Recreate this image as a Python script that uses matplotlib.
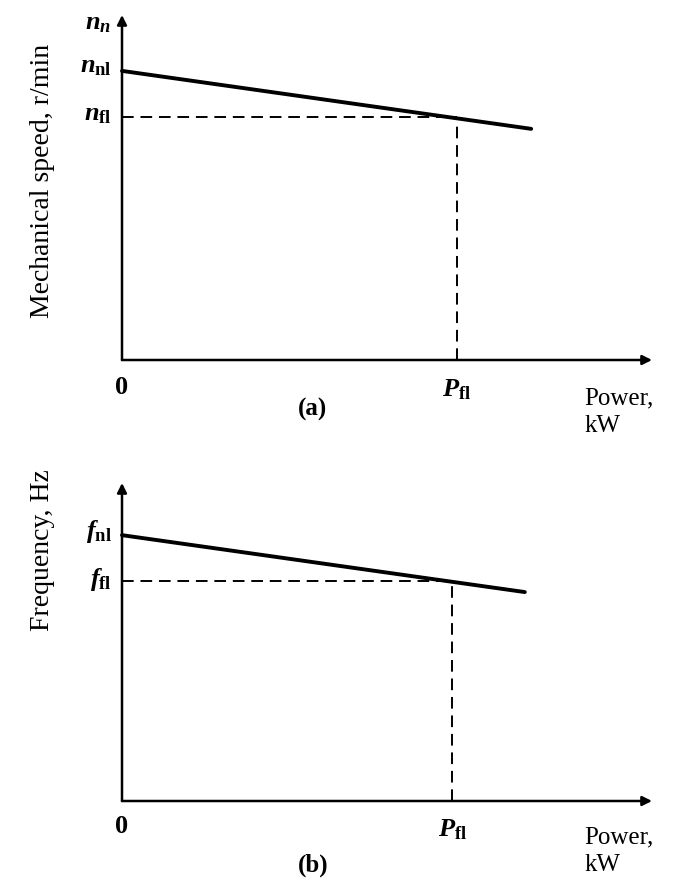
import matplotlib
matplotlib.use('Agg')
import matplotlib.pyplot as plt

# chart values (normalised units, axis arrows end at 1.0)
power_a = [0.0, 0.772]
speed_a = [0.838, 0.670]
p_fl_a = 0.632
n_nl = 0.838
n_fl = 0.704

power_b = [0.0, 0.760]
freq_b = [0.836, 0.657]
p_fl_b = 0.623
f_nl = 0.836
f_fl = 0.692

ylabels = ['Mechanical speed, r/min', 'Frequency, Hz']
captions = ['(a)', '(b)']

plt.rcParams['font.family'] = ['Liberation Serif', 'DejaVu Serif']
plt.rcParams['mathtext.fontset'] = 'custom'
plt.rcParams['mathtext.rm'] = 'Liberation Serif:bold'
plt.rcParams['mathtext.it'] = 'Liberation Serif:italic:bold'
plt.rcParams['mathtext.bf'] = 'Liberation Serif:bold'


def draw_axes(ax):
    ax.set_xlim(0, 1)
    ax.set_ylim(0, 1)
    ax.axis('off')
    arw = dict(arrowstyle='-|>', lw=1.8, color='black', mutation_scale=14,
               shrinkA=0, shrinkB=0)
    ax.annotate('', xy=(1.0, 0), xytext=(0, 0), arrowprops=arw,
                annotation_clip=False)
    ax.annotate('', xy=(0, 1.0), xytext=(0, 0), arrowprops=arw,
                annotation_clip=False)


def panel(ax, xs, ys, p_fl, y_nl, y_fl, sym, ylabel, caption, show_top, ylab_y, cap_y):
    draw_axes(ax)
    ax.plot(xs, ys, color='black', lw=2.8, solid_capstyle='round', clip_on=False)
    ax.plot([0, p_fl], [y_fl, y_fl], color='black', lw=1.4, dashes=(6, 3.5))
    ax.plot([p_fl, p_fl], [0, y_fl], color='black', lw=1.4, dashes=(6, 3.5))

    fs = 19
    if show_top:
        ax.text(-0.02, 0.975, r'$n_n$', ha='right', va='center', fontsize=fs)
    ax.text(-0.02, y_nl + 0.01, r'$%s_{\mathrm{nl}}$' % sym, ha='right', va='center', fontsize=fs)
    ax.text(-0.02, y_fl + 0.005, r'$%s_{\mathrm{fl}}$' % sym, ha='right', va='center', fontsize=fs)
    ax.text(0, -0.045, '0', ha='center', va='top', fontsize=fs, fontweight='bold')
    ax.text(p_fl, -0.05, r'$P_{\mathrm{fl}}$', ha='center', va='top', fontsize=fs)
    ax.text(0.872, -0.08, 'Power,\nkW', ha='left', va='top', fontsize=18,
            linespacing=1.3)
    ax.text(0.36, cap_y, caption, ha='center', va='top', fontsize=18,
            fontweight='bold')
    ax.text(-0.15, ylab_y, ylabel, rotation=90,
            ha='center', va='center', fontsize=20)


if __name__ == '__main__':
    fig = plt.figure(figsize=(6.88, 8.90), dpi=100)
    ax1 = fig.add_axes([122 / 688, 530 / 890, 530 / 688, 345 / 890])
    ax2 = fig.add_axes([122 / 688, 89 / 890, 530 / 688, 318 / 890])

    panel(ax1, power_a, speed_a, p_fl_a, n_nl, n_fl, 'n', ylabels[0], captions[0], True, 0.52, -0.11)
    panel(ax2, power_b, freq_b, p_fl_b, f_nl, f_fl, 'f', ylabels[1], captions[1], False, 0.79, -0.165)

    fig.savefig('out.png', dpi=100, facecolor='white')
